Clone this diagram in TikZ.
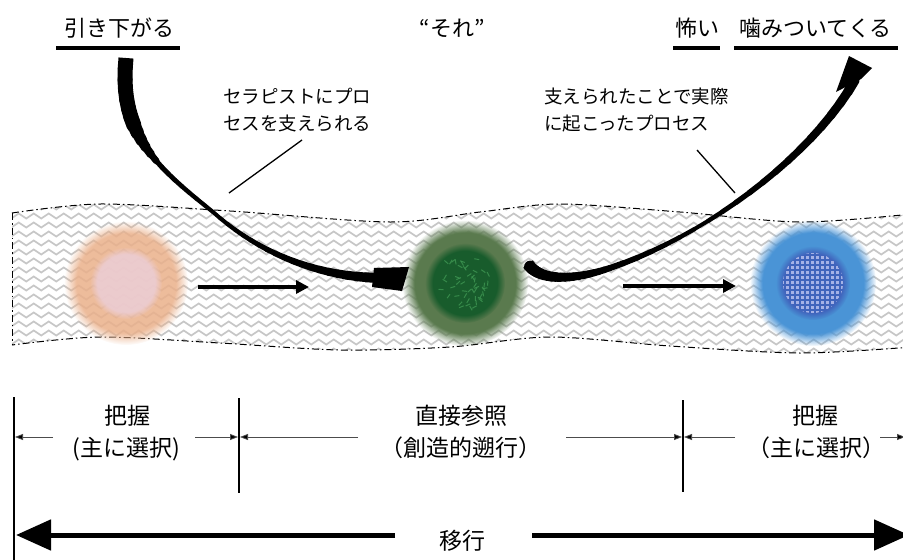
\documentclass[tikz,border=0pt]{standalone}
\usepackage{fontspec}
\setmainfont{Noto Sans CJK JP}
\usetikzlibrary{arrows.meta,fadings,decorations.pathmorphing}
\definecolor{orangeC}{RGB}{234,176,138}
\definecolor{pinkC}{RGB}{236,206,214}
\definecolor{greenO}{RGB}{90,122,78}
\definecolor{greenI}{RGB}{24,92,44}
\definecolor{greenL}{RGB}{62,150,82}
\definecolor{blueO}{RGB}{74,148,214}
\definecolor{blueI}{RGB}{62,88,182}
\definecolor{lav}{RGB}{200,205,245}
\begin{document}
\begin{tikzpicture}[x=1pt,y=-1pt,
  big/.style={font=\fontsize{22pt}{26pt}\selectfont, inner sep=0pt, anchor=base},
  mid/.style={font=\fontsize{18.5pt}{22pt}\selectfont, inner sep=0pt, anchor=base west},
  low/.style={font=\fontsize{23pt}{27pt}\selectfont, inner sep=0pt, anchor=base},
  uline/.style={line width=4pt},
  leader/.style={line width=1.3pt},
  dimarrow/.style={line width=0.8pt, draw=black!70, -{Triangle[length=8pt,width=6pt,fill=black]}},
  bar/.style={line width=2pt},
  flow/.style={line width=4.5pt, -{Triangle[length=13pt,width=13pt]}},
  bigarrow/.style={line width=5pt, -{Triangle[length=35pt,width=30pt]}},
  bandline/.style={line width=1pt, dash pattern=on 7pt off 3pt on 1.5pt off 3pt},
  zz/.style={draw=black!22, line width=1.7pt, decorate, decoration={zigzag, segment length=15pt, amplitude=2.5pt}},
  blob/.style={circle, minimum size=114pt, inner sep=0pt},
  piece/.style={line cap=round, draw=black},
]
\useasboundingbox (0,0) rectangle (903,560);

% ---------- band ----------
\def\topedge{(12,213) (100,204) (230,211) (390,222) (480,212) (560,204) (680,212) (800,222) (912,214)}
\def\botedge{(912,347) (800,353) (670,346) (550,337) (450,347) (340,350) (220,343) (100,337) (12,345)}
\begin{scope}
  \clip plot[smooth] coordinates {\topedge} -- plot[smooth] coordinates {\botedge} -- cycle;
  \foreach \yy in {198,207,...,362} \draw[zz] (0,\yy) -- (920,\yy);
\end{scope}
\draw[bandline] plot[smooth] coordinates {\topedge};
\draw[bandline] plot[smooth] coordinates {\botedge};
\draw[bandline] (12,213) -- (12,345);

% ---------- blobs ----------
\node[blob] (c1) at (126,283) {};
\node[blob] (c2) at (465,283) {};
\node[blob] (c3) at (813,283) {};

\fill[orangeC, fill opacity=0.85, path fading=circle with fuzzy edge 20 percent] (c1.center) circle (62);
\fill[pinkC, fill opacity=0.85, path fading=circle with fuzzy edge 20 percent] (c1.center) circle (36);

\fill[greenO, path fading=circle with fuzzy edge 20 percent] (c2.center) circle (63);
\fill[greenI, path fading=circle with fuzzy edge 20 percent] (c2.center) circle (40);
\pgfmathsetseed{7}
\foreach \i in {1,...,50}{
  \pgfmathsetmacro{\aa}{rnd*360}
  \pgfmathsetmacro{\rr}{sqrt(rnd)*26}
  \pgfmathsetmacro{\bb}{rnd*360}
  \draw[greenL, line width=1pt, opacity=0.8] ([shift={(\aa:\rr)}]c2.center) -- ++(\bb:5);
}

\fill[blueO, path fading=circle with fuzzy edge 20 percent] (c3.center) circle (63);
\fill[blueI, fill opacity=0.8, path fading=circle with fuzzy edge 20 percent] (c3.center) circle (37);
\begin{scope}
  \clip (c3.center) circle (30);
  \foreach \gx in {-32,-27,...,32}
    \foreach \gy in {-32,-27,...,32}
      \fill[lav, opacity=0.75] ([shift={(\gx,\gy)}]c3.center) rectangle ++(2.6,2.6);
\end{scope}

% ---------- straight flow arrows ----------
\coordinate (f1a) at (198,287); \coordinate (f1b) at (309,287);
\coordinate (f2a) at (623,286); \coordinate (f2b) at (736,286);
\draw[flow] (f1a) -- (f1b);
\draw[flow] (f2a) -- (f2b);

% ---------- top labels ----------
\node[big] (t1) at (119.5,36.5) {引き下がる};
\node[big] (t2) at (452,36.5) {“それ”};
\node[big] (t3) at (697,36.5) {怖い};
\node[big] (t4) at (815.5,36.5) {噛みついてくる};
\draw[uline] (56,47.5) -- (180,47.5);
\draw[uline] (673,47.5) -- (720,47.5);
\draw[uline] (734,47.5) -- (898,47.5);

% ---------- curved arrow: 引き下がる -> green ----------
\path (126,58) .. controls (118,135) and (158,168) .. (213,212)
  foreach \k in {0,...,20}{coordinate[pos=\k/20] (la\k)};
\path (213,212) .. controls (260,254) and (320,278) .. (385,278)
  foreach \k in {0,...,20}{coordinate[pos=\k/20] (lb\k)};
\draw[line width=15pt, line cap=butt] (la0) -- (la1);
\foreach \k in {1,...,19}{
  \pgfmathtruncatemacro{\n}{\k+1}
  \pgfmathsetmacro{\w}{\k<6 ? 15 : (\k<12 ? 15-10*(\k-6)/6 : 5-(\k-12)/8)}
  \draw[piece, line width=\w pt] (la\k) -- (la\n);
}
\foreach \k in {0,...,19}{
  \pgfmathtruncatemacro{\n}{\k+1}
  \pgfmathsetmacro{\w}{4+7*(\k/20)^1.5}
  \draw[piece, line width=\w pt] (lb\k) -- (lb\n);
}
\fill (374,268) -- (409,267) -- (402,291) -- (372,287) -- cycle;

% ---------- curved arrow: green -> 噛みついてくる ----------
\path (528,264) .. controls (540,282) and (575,280) .. (610,268)
  foreach \k in {0,...,20}{coordinate[pos=\k/20] (ra\k)};
\path (610,268) .. controls (700,238) and (810,160) .. (855,80)
  foreach \k in {0,...,20}{coordinate[pos=\k/20] (rb\k)};
\draw[line width=12pt, line cap=butt] (ra0) -- (ra1);
\foreach \k in {1,...,19}{
  \pgfmathtruncatemacro{\n}{\k+1}
  \pgfmathsetmacro{\w}{12-6*\k/20}
  \draw[piece, line width=\w pt] (ra\k) -- (ra\n);
}
\foreach \k in {0,...,19}{
  \pgfmathtruncatemacro{\n}{\k+1}
  \pgfmathsetmacro{\w}{\k<6 ? 6-2*\k/6 : 4+6*(\k-6)/14}
  \draw[piece, line width=\w pt] (rb\k) -- (rb\n);
}
\fill (836,92) -- (849,56) -- (872,68) -- (861,79) -- cycle;

% ---------- middle labels ----------
\node[mid] (m1) at (223,103) {セラピストにプロ};
\node[mid] (m2) at (223,130) {セスを支えられる};
\node[mid] (m3) at (544,103) {支えられたことで実際};
\node[mid] (m4) at (544,130) {に起こったプロセス};
\coordinate (l1a) at (302,140); \coordinate (l1b) at (229,193);
\coordinate (l2a) at (697,150); \coordinate (l2b) at (735,193);
\draw[leader] (l1a) -- (l1b);
\draw[leader] (l2a) -- (l2b);

% ---------- bottom: bars and dimension arrows ----------
\coordinate (b1t) at (14,397);  \coordinate (b1b) at (14,562);
\coordinate (b2t) at (239,398); \coordinate (b2b) at (239,493);
\coordinate (b3t) at (683,400); \coordinate (b3b) at (683,492);
\draw[bar] (b1t) -- (b1b);
\draw[bar] (b2t) -- (b2b);
\draw[bar] (b3t) -- (b3b);

\coordinate (d1a) at (53,437);  \coordinate (d1b) at (15,437);
\coordinate (d2a) at (195,437); \coordinate (d2b) at (238,437);
\coordinate (d3a) at (358,437); \coordinate (d3b) at (240,437);
\coordinate (d4a) at (566,437); \coordinate (d4b) at (682,437);
\coordinate (d5a) at (735,437); \coordinate (d5b) at (684,437);
\coordinate (d6a) at (880,437); \coordinate (d6b) at (905,437);
\foreach \s in {1,...,6} \draw[dimarrow] (d\s a) -- (d\s b);

\node[low] (g1) at (127,424) {把握};
\node[low] (g2) at (126,456) {(主に選択)};
\node[low] (g3) at (461,424) {直接参照};
\node[low] (g4) at (461,456) {（創造的遡行）};
\node[low] (g5) at (815,424) {把握};
\node[low] (g6) at (816,456) {（主に選択）};

% ---------- transition arrows ----------
\node[low] (mv) at (462,549) {移行};
\coordinate (ba1) at (395,535); \coordinate (bt1) at (16,535);
\coordinate (ba2) at (532,535); \coordinate (bt2) at (909,535);
\draw[bigarrow] (ba1) -- (bt1);
\draw[bigarrow] (ba2) -- (bt2);
\end{tikzpicture}
\end{document}
